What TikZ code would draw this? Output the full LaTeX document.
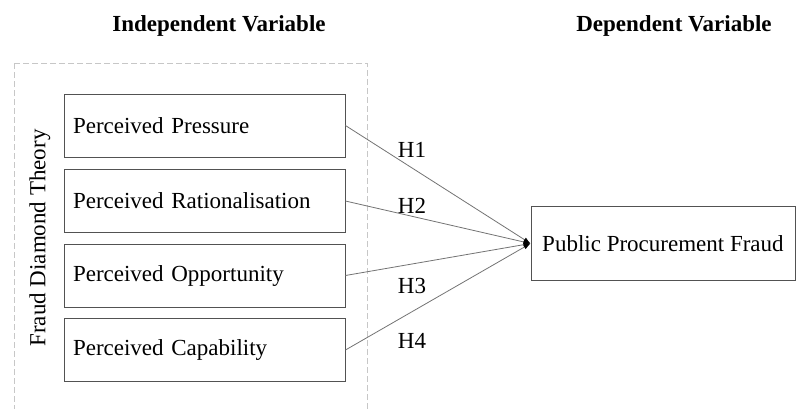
\documentclass[tikz,border=0pt]{standalone}
\usepackage{fontspec}
\setmainfont{Liberation Serif}
\usetikzlibrary{arrows.meta}
\begin{document}
\begin{tikzpicture}[x=1pt,y=-1pt,
  varbox/.style={draw=black!68, line width=0.9pt, minimum width=281pt, minimum height=63pt,
    text width=263pt, align=left, inner sep=0pt, font=\fontsize{23}{27}\selectfont},
  outbox/.style={draw=black!68, line width=0.9pt, minimum width=264pt, minimum height=74pt,
    inner sep=0pt, font=\fontsize{23}{27}\selectfont},
  head/.style={anchor=base, font=\fontsize{23}{27}\selectfont\bfseries},
  hlab/.style={anchor=base, font=\fontsize{23}{27}\selectfont},
  link/.style={draw=black!55, line width=0.8pt, -{Latex[length=7pt,width=5pt,black]}}]
\useasboundingbox (0,0) rectangle (797,408);
\draw[black!22, line width=0.9pt, dash pattern=on 6pt off 3pt] (14,63) rectangle (367,415);
\node[head] (hi) at (219,31) {Independent Variable};
\node[head] (hd) at (674,31) {Dependent Variable};
\node[rotate=90, font=\fontsize{23}{27}\selectfont] (fdt) at (40,238) {Fraud Diamond Theory};
\node[varbox] (b1) at (204.5,125.5) {Perceived Pressure};
\node[varbox] (b2) at (204.5,201) {Perceived Rationalisation};
\node[varbox] (b3) at (204.5,275.5) {Perceived Opportunity};
\node[varbox] (b4) at (204.5,350) {Perceived Capability};
\node[outbox, anchor=west] (t) at (530.5,243.5) {Public Procurement Fraud};
\draw[link] (b1.east) -- (t.west);
\draw[link] (b2.east) -- (t.west);
\draw[link] (b3.east) -- (t.west);
\draw[link] (b4.east) -- (t.west);
\node[hlab] (h1) at (412,157) {H1};
\node[hlab] (h2) at (412,213) {H2};
\node[hlab] (h3) at (412,293) {H3};
\node[hlab] (h4) at (412,348) {H4};
\end{tikzpicture}
\end{document}
